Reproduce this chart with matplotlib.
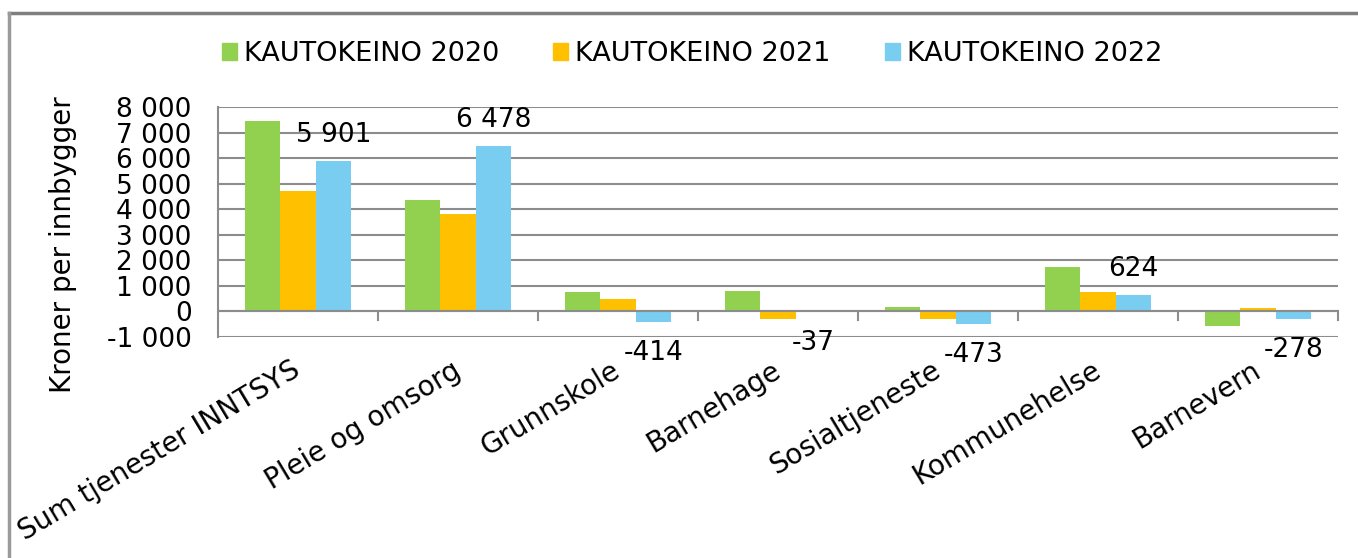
import matplotlib.pyplot as plt
import numpy as np
from matplotlib.lines import Line2D
from matplotlib.ticker import FuncFormatter

categories = ["Sum tjenester INNTSYS", "Pleie og omsorg", "Grunnskole", "Barnehage",
              "Sosialtjeneste", "Kommunehelse", "Barnevern"]
series_names = ["KAUTOKEINO 2020", "KAUTOKEINO 2021", "KAUTOKEINO 2022"]
values_2020 = [7450, 4360, 770, 810, 170, 1750, -580]
values_2021 = [4720, 3800, 470, -310, -310, 760, 120]
values_2022 = [5901, 6478, -414, -37, -473, 624, -278]
colors = ["#92D050", "#FFC000", "#78CDF0"]

GRID = "#8C8C8C"
FS = 19
plt.rcParams["font.family"] = ["DejaVu Sans"]

fig = plt.figure(figsize=(13.58, 5.58), dpi=100)
W, H = 1358, 558
ax = fig.add_axes([218 / W, 1 - 337 / H, (1338 - 218) / W, (337 - 107) / H])

x = np.arange(len(categories))
width = 0.22
for i, vals in enumerate([values_2020, values_2021, values_2022]):
    ax.bar(x + (i - 1) * width, vals, width, color=colors[i], zorder=3,
           label=series_names[i])

# data labels for the 2022 series
for xi, v in zip(x, values_2022):
    off = 26 if v >= 0 else -31
    ax.annotate(f"{v:,}".replace(",", " "), (xi + width, v), xytext=(0, off),
                textcoords="offset pixels", ha="center", va="center", fontsize=FS)

ax.set_xlim(-0.5, len(categories) - 0.5)
ax.set_ylim(-1000, 8000)
ax.set_yticks(np.arange(-1000, 8001, 1000))
ax.yaxis.set_major_formatter(FuncFormatter(lambda v, p: f"{int(v):,}".replace(",", " ")))
ax.grid(axis="y", color=GRID, linewidth=1.5, zorder=0)
ax.tick_params(axis="y", length=0, labelsize=FS, pad=19)
for s in ["top", "right", "bottom"]:
    ax.spines[s].set_visible(False)
ax.spines["left"].set_color(GRID)
ax.spines["left"].set_linewidth(1.5)
ax.axhline(0, color=GRID, linewidth=1.5, zorder=4)

# x axis: ticks between categories hanging off the zero line
ax.set_xticks([])
for b in np.arange(0.5, len(categories) - 0.4, 1):
    ax.plot([b, b], [0, -330], color=GRID, linewidth=1.5, zorder=4, clip_on=False)

for xi, name in zip(x, categories):
    ax.annotate(name, (xi, -1000), xytext=(-7, -19), textcoords="offset pixels",
                ha="right", va="top", rotation=31, rotation_mode="anchor", fontsize=20)

fig.text(63 / W, 1 - 245 / H, "Kroner per innbygger", rotation=90, ha="center",
         va="center", fontsize=20)

handles = [plt.Rectangle((0, 0), 1, 1, color=c) for c in colors]
fig.legend(handles, series_names, loc="center", bbox_to_anchor=(692 / W, 1 - 54 / H),
           ncol=3, frameon=False, fontsize=19.5, handlelength=0.55, handleheight=0.55,
           handletextpad=0.26, columnspacing=2.0, borderpad=0)

# outer chart border
fig.add_artist(Line2D([9 / W, 1], [1 - 13 / H, 1 - 13 / H], color="#7F7F7F", linewidth=2.5,
                      transform=fig.transFigure))
fig.add_artist(Line2D([9 / W, 9 / W], [0, 1 - 13 / H], color="#9A9A9A", linewidth=2.5,
                      transform=fig.transFigure))

fig.savefig("out.png", dpi=100, facecolor="white")
